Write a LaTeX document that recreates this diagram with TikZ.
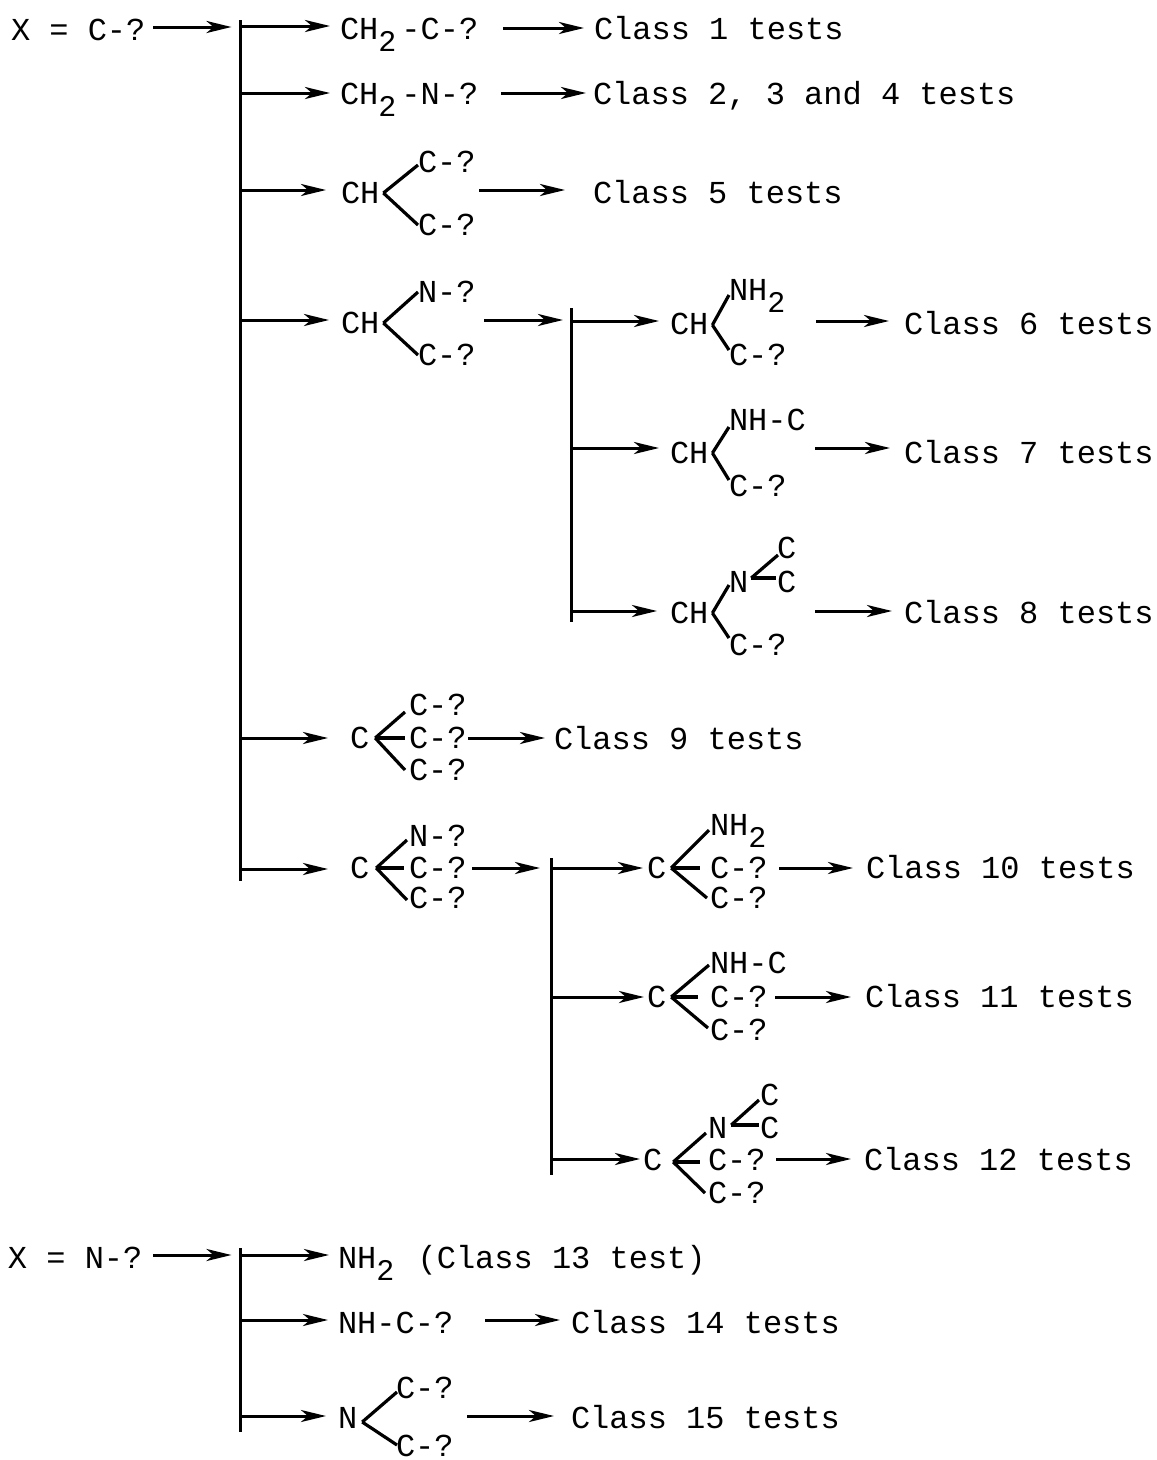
\documentclass[tikz,border=0pt]{standalone}
\usepackage{fontspec}
\setmainfont{Liberation Mono}
\usetikzlibrary{arrows.meta}
\newcommand\subs[1]{\raisebox{-12pt}{\fontsize{30}{30}\selectfont #1}}
\newcommand\Nd[4]{\node[txt] (#1) at (#2,#3) {#4};}
\newcommand\Ar[4]{\draw[arr,shorten <=#3pt,shorten >=#4pt] (#1) -- (#2);}
% bond: source node, its dx, dy, target node, its dx, dy
\newcommand\Bd[6]{\draw[bond] ([xshift=#2pt,yshift=#3pt]#1.east) -- ([xshift=#5pt,yshift=#6pt]#4.west);}
\tikzset{
  txt/.style={anchor=south west,inner sep=0pt,outer sep=0pt,text height=22pt,text depth=0pt,font=\fontsize{32}{32}\selectfont,text=black},
  arr/.style={line width=3pt,-{Stealth[length=25pt,width=12pt,inset=7pt]}},
  bond/.style={line width=3.2pt},
  bar/.style={line width=3pt}
}
\begin{document}
\begin{tikzpicture}[x=1pt,y=-1pt]
\useasboundingbox (0,0) rectangle (1157,1460);
% bars
\coordinate (b1t) at (240.5,20); \coordinate (b1b) at (240.5,881);
\coordinate (b2t) at (571,308); \coordinate (b2b) at (571,622);
\coordinate (b3t) at (551,858); \coordinate (b3b) at (551,1175);
\coordinate (b4t) at (240.5,1248); \coordinate (b4b) at (240.5,1432);
\draw[bar] (b1t) -- (b1b); \draw[bar] (b2t) -- (b2b); \draw[bar] (b3t) -- (b3b); \draw[bar] (b4t) -- (b4b);
% junctions
\coordinate (j1) at (240.5,26); \coordinate (j1in) at (240.5,27); \coordinate (j2) at (240.5,93); \coordinate (j3) at (240.5,190); \coordinate (j4) at (240.5,320);
\coordinate (j9) at (240.5,738); \coordinate (j10) at (240.5,869);
\coordinate (k0) at (571,320); \coordinate (k6) at (571,321); \coordinate (k7) at (571,448); \coordinate (k8) at (571,611);
\coordinate (m10) at (551,868); \coordinate (m11) at (551,997); \coordinate (m12) at (551,1159);
\coordinate (p13) at (240.5,1255); \coordinate (p14) at (240.5,1320); \coordinate (p15) at (240.5,1416);
% texts
\Nd{xc}{11}{40}{X = C-?}
\Nd{a1}{340}{39}{CH\subs{2}\hspace{5pt}-C-?}
\Nd{c1}{594}{39}{Class 1 tests}
\Nd{a2}{340}{104}{CH\subs{2}\hspace{5pt}-N-?}
\Nd{c2}{593}{104}{Class 2, 3 and 4 tests}
\Nd{a3}{341}{203}{CH}
\Nd{a3u}{418}{172}{C-?}
\Nd{a3d}{418}{235}{C-?}
\Nd{c3}{593}{203}{Class 5 tests}
\Nd{a4}{341}{333}{CH}
\Nd{a4u}{418}{302}{N-?}
\Nd{a4d}{418}{365}{C-?}
\Nd{a6}{670}{334}{CH}
\Nd{a6u}{729}{300}{NH\subs{2}}
\Nd{a6d}{729}{365}{C-?}
\Nd{c6}{904}{334}{Class 6 tests}
\Nd{a7}{670}{463}{CH}
\Nd{a7u}{729}{430}{NH-C}
\Nd{a7d}{729}{496}{C-?}
\Nd{c7}{904}{463}{Class 7 tests}
\Nd{a8}{670}{623}{CH}
\Nd{a8n}{729}{592}{N}
\Nd{a8c}{777}{558}{C}
\Nd{a8e}{777}{592}{C}
\Nd{a8d}{729}{655}{C-?}
\Nd{c8}{904}{623}{Class 8 tests}
\Nd{a9}{350}{748}{C}
\Nd{a9u}{409}{715}{C-?}
\Nd{a9m}{409}{748}{C-?}
\Nd{a9d}{409}{780}{C-?}
\Nd{c9}{554}{749}{Class 9 tests}
\Nd{a10}{350}{878}{C}
\Nd{a10u}{409}{846}{N-?}
\Nd{a10m}{409}{878}{C-?}
\Nd{a10d}{409}{908}{C-?}
\Nd{b10}{647}{878}{C}
\Nd{b10u}{710}{835}{NH\subs{2}}
\Nd{b10m}{710}{878}{C-?}
\Nd{b10d}{710}{908}{C-?}
\Nd{c10}{866}{878}{Class 10 tests}
\Nd{b11}{647}{1007}{C}
\Nd{b11u}{710}{973}{NH-C}
\Nd{b11m}{710}{1007}{C-?}
\Nd{b11d}{710}{1040}{C-?}
\Nd{c11}{865}{1007}{Class 11 tests}
\Nd{b12}{643}{1170}{C}
\Nd{b12n}{708}{1138}{N}
\Nd{b12c}{760}{1105}{C}
\Nd{b12e}{760}{1138}{C}
\Nd{b12m}{708}{1170}{C-?}
\Nd{b12d}{708}{1203}{C-?}
\Nd{c12}{864}{1170}{Class 12 tests}
\Nd{xn}{8}{1268}{X = N-?}
\Nd{n13}{338}{1268}{NH\subs{2}\hspace{4pt} (Class 13 test)}
\Nd{n14}{338}{1333}{NH-C-?}
\Nd{c14}{571}{1333}{Class 14 tests}
\Nd{n15}{338}{1428}{N}
\Nd{n15u}{396}{1398}{C-?}
\Nd{n15d}{396}{1456}{C-?}
\Nd{c15}{571}{1428}{Class 15 tests}
% arrows
\Ar{[yshift=2pt]xc.east}{j1in}{8}{9}
\Ar{j1}{[yshift=2pt]a1.west}{0}{10}
\Ar{j2}{a2.west}{0}{10}
\Ar{j3}{[yshift=2pt]a3.west}{0}{15}
\Ar{j4}{[yshift=2pt]a4.west}{0}{12}
\Ar{j9}{[yshift=-1pt]a9.west}{0}{22}
\Ar{j10}{[yshift=-2pt]a10.west}{0}{22}
\Ar{a1.east}{c1.west}{25}{10}
\Ar{a2.east}{c2.west}{23}{7}
\Ar{[yshift=2pt]a3.east}{[yshift=2pt]c3.west}{100}{28}
\Ar{[yshift=2pt]a4.east}{k0}{105}{8}
\Ar{[yshift=-1pt]a9.east}{c9.west}{99}{9}
\Ar{[yshift=-1pt]a10.east}{m10}{103}{11}
\Ar{k6}{[yshift=2pt]a6.west}{0}{11}
\Ar{k7}{[yshift=4pt]a7.west}{0}{11}
\Ar{k8}{[yshift=1pt]a8.west}{0}{13}
\Ar{[yshift=2pt]a6.east}{[yshift=2pt]c6.west}{108}{15}
\Ar{[yshift=4pt]a7.east}{[yshift=4pt]c7.west}{107}{14}
\Ar{[yshift=1pt]a8.east}{[yshift=1pt]c8.west}{107}{12}
\Ar{m10}{[yshift=-1pt]b10.west}{0}{4}
\Ar{m11}{[yshift=-1pt]b11.west}{0}{3}
\Ar{m12}{b12.west}{0}{3}
\Ar{[yshift=-1pt]b10.east}{[yshift=-1pt]c10.west}{113}{13}
\Ar{[yshift=-1pt]b11.east}{[yshift=-1pt]c11.west}{109}{14}
\Ar{b12.east}{c12.west}{114}{13}
\Ar{[yshift=2pt]xn.east}{p13}{11}{9}
\Ar{p13}{[yshift=2pt]n13.west}{0}{9}
\Ar{p14}{[yshift=2pt]n14.west}{0}{10}
\Ar{p15}{[yshift=1pt]n15.west}{0}{12}
\Ar{[yshift=2pt]n14.east}{[yshift=2pt]c14.west}{32}{11}
\Ar{[yshift=1pt]n15.east}{[yshift=1pt]c15.west}{110}{17}
% bonds
\Bd{a3}{4}{-1}{a3u}{0}{-4}\Bd{a3}{4}{-1}{a3d}{0}{-1}
\Bd{a4}{4}{-1}{a4u}{0}{-1}\Bd{a4}{4}{-1}{a4d}{0}{-1}
\Bd{a6}{4}{-2}{a6u}{0}{-6}\Bd{a6}{4}{-2}{a6d}{0}{4}
\Bd{a7}{4}{-1}{a7u}{0}{-8}\Bd{a7}{4}{-1}{a7d}{0}{5}
\Bd{a8}{4}{-1}{a8n}{0}{-4}\Bd{a8}{4}{-1}{a8d}{0}{6}
\Bd{a8n}{3}{3}{a8c}{1}{-8}\Bd{a8n}{3}{3}{a8e}{-1}{3}
\Bd{a9}{6}{-1}{a9u}{-4}{-8}\Bd{a9}{6}{-1}{a9m}{-4}{-1}\Bd{a9}{6}{-1}{a9d}{-4}{-1}
\Bd{a10}{7}{-1}{a10u}{-2}{-5}\Bd{a10}{7}{-1}{a10m}{-5}{-1}\Bd{a10}{7}{-1}{a10d}{-2}{-3}
\Bd{b10}{5}{-1}{b10u}{-1}{-6}\Bd{b10}{5}{-1}{b10m}{-10}{-1}\Bd{b10}{5}{-1}{b10d}{-3}{-1}
\Bd{b11}{5}{-1}{b11u}{-1}{-3}\Bd{b11}{5}{-1}{b11m}{-12}{-1}\Bd{b11}{5}{-1}{b11d}{-2}{1}
\Bd{b12}{11}{-3}{b12n}{-2}{-6}\Bd{b12}{11}{-3}{b12m}{-8}{-3}\Bd{b12}{11}{-3}{b12d}{-3}{-1}
\Bd{b12n}{4}{2}{b12c}{-1}{-6}\Bd{b12n}{4}{2}{b12e}{-1}{2}
\Bd{n15}{5}{-5}{n15u}{1}{-5}\Bd{n15}{5}{-5}{n15d}{1}{0}
\end{tikzpicture}
\end{document}
